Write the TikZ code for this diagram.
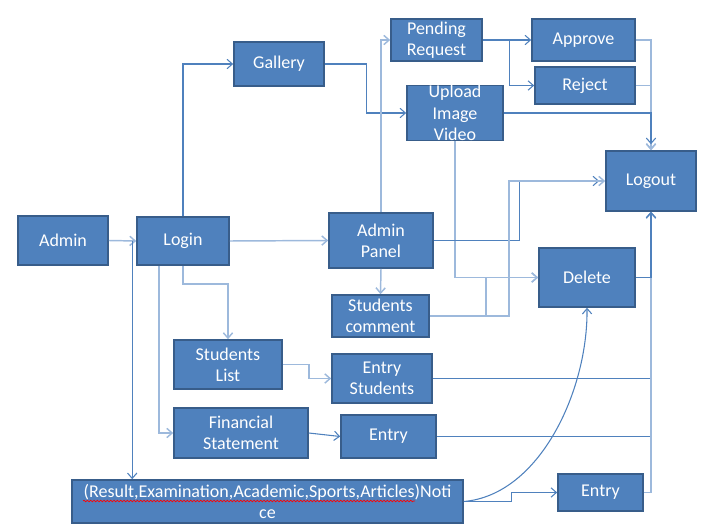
\documentclass[tikz,border=0pt]{standalone}
\usepackage{fontspec}
\setmainfont{Carlito}
\usetikzlibrary{arrows.meta,calc,decorations.pathmorphing}
\definecolor{boxfill}{HTML}{4F81BD}
\definecolor{boxedge}{HTML}{385D8A}
\definecolor{lightline}{HTML}{9DB9DC}
\definecolor{darkline}{HTML}{4F81BD}
\tikzset{
  box/.style={draw=boxedge, fill=boxfill, line width=1.2pt, inner sep=0pt,
    text=white, align=center, font=\fontsize{13.5}{16}\selectfont},
  sz/.style 2 args={minimum width=#1*0.75pt, minimum height=#2*0.75pt},
  lk/.style={draw=lightline, line width=1.1pt, -{Straight Barb[length=4pt,width=7pt]}},
  dk/.style={draw=darkline, line width=0.8pt, -{Straight Barb[length=4pt,width=7pt]}},
}
\begin{document}
\begin{tikzpicture}[x=0.75pt,y=-0.75pt]
\useasboundingbox (0,0) rectangle (714,531);
% boxes
\node[box, sz={90}{49}] (admin) at (63,240.5) {Admin};
\node[box, sz={92}{48}] (login) at (183,241) {Login};
\node[box, sz={90}{44}] (gallery) at (279,64) {Gallery};
\node[box, sz={104}{55}] (panel) at (381,240.5) {Admin\\Panel};
\node[box, sz={91}{42}] (pending) at (436.5,40) {Pending\\Request};
\node[box, sz={96}{54}] (upload) at (455,113) {Upload\\Image\\Video};
\node[box, sz={103}{42}] (approve) at (583.5,40) {Approve};
\node[box, sz={100}{37}] (reject) at (585,85.5) {Reject};
\node[box, sz={90}{60}] (logout) at (651,181) {Logout};
\node[box, sz={96}{59}] (delete) at (587,277.5) {Delete};
\node[box, sz={97}{42}] (comment) at (380.5,316) {Students\\comment};
\node[box, sz={108}{49}] (slist) at (228,364.5) {Students\\List};
\node[box, sz={100}{49}] (estud) at (382,378.5) {Entry\\Students};
\node[box, sz={134}{50}] (fin) at (241,433) {Financial\\Statement};
\node[box, sz={95}{43}] (efin) at (388.5,436.5) {Entry};
\node[box, sz={391}{43}] (notice) at (267.5,501.5) {(Result,Examination,Academic,Sports,Articles)Noti\\ce};
\node[box, sz={85}{37}] (enote) at (600.5,492.5) {Entry};
% spelling underline
\draw[red, line width=0.5pt, decorate, decoration={snake, amplitude=0.6pt, segment length=2.5pt}] (83,501) -- (415,501);
% connectors
\draw[lk] (admin.east) -- (login.west);
\draw[lk] (login.east) -- (panel.west);
\draw[dk] (login.north) |- (gallery.west);
\draw[dk] (gallery.east) -- ++(42,0) |- (upload.west);
\draw[lk] (panel.north) |- (pending.west);
\draw[dk] (pending.east) -- (approve.west);
\draw[dk] ($(pending.east)+(27,0)$) |- (reject.west);
\draw[lk] (approve.east) -| (logout.north);
\draw[lk] (reject.east) -| (logout.north);
\draw[dk] (upload.east) -| ($(logout.north)+(0,-6)$);
\draw[lk] (upload.south) |- (delete.west);
\draw[dk] (panel.east) -- ++(86,0) |- ($(logout.west)+(-6,0)$);
\draw[lk] (comment.east) -- ++(79,0) |- (logout.west);
\draw[lk] (comment.east) -- ++(56,0) |- (delete.west);
\draw[lk] (panel.south) -- (comment.north);
\draw[lk] (login.south) -- ++(0,18) -| (slist.north);
\draw[lk] ($(login.south)+(-24,0)$) |- (fin.west);
\coordinate (nl) at ($(login.west)+(-4,0)$);
\draw[dk] (nl) -- (nl |- notice.north);
\draw[lk] (slist.east) -- ++(26,0) |- (estud.west);
\draw[dk] (fin.east) -- (efin.west);
\draw[dk] (estud.east) -| (logout.south);
\draw[dk] (efin.east) -| (logout.south);
\draw[lk] (enote.east) -| (logout.south);
\draw[dk] (delete.east) -| (logout.south);
\draw[dk] (notice.east) -- ++(48,0) |- (enote.west);
\draw[dk] (notice.east) .. controls (540,495) and (588,390) .. (delete.south);
\end{tikzpicture}
\end{document}
